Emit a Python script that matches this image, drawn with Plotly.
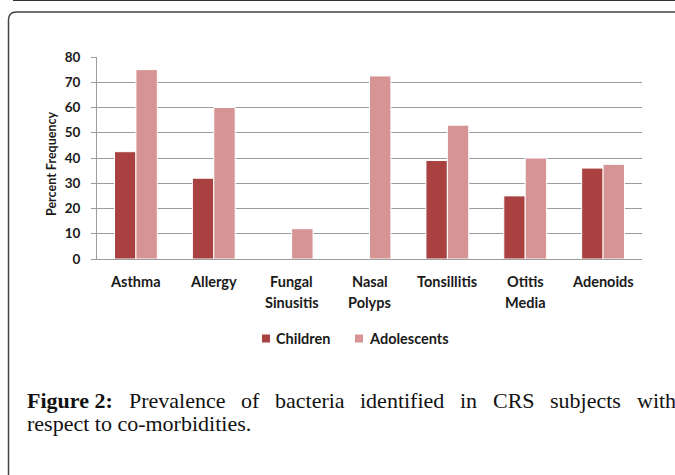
import plotly.graph_objects as go

# ---- data ----
categories = ["Asthma", "Allergy", "Fungal Sinusitis", "Nasal Polyps", "Tonsillitis", "Otitis Media", "Adenoids"]
label_line1 = ["Asthma", "Allergy", "Fungal", "Nasal", "Tonsillitis", "Otitis", "Adenoids"]
label_line2 = ["", "", "Sinusitis", "Polyps", "", "Media", ""]
children = [42.5, 32, None, None, 39, 25, 36]
adolescents = [75, 60, 12, 72.5, 53, 40, 37.5]
series_names = ["Children", "Adolescents"]
y_ticks = [0, 10, 20, 30, 40, 50, 60, 70, 80]
y_title = "Percent Frequency"
caption_bold = "Figure 2:"
caption_line1_words = ["Prevalence", "of", "bacteria", "identified", "in", "CRS", "subjects", "with"]
caption_line2 = "respect to co-morbidities."

# ---- layout constants ----
W, H = 675, 475
ML, MR, MT, MB = 97, 33, 57, 216
PW, PH = W - ML - MR, H - MT - MB
C_CHILD = "#A94141"
C_ADOL = "#D69494"
GRID = "#9c9c9c"
SANS = "Lato"
SERIF = "Liberation Serif"
LBL = 14.5
CAP = 22

# Times/Liberation Serif advance widths (1/1000 em) used to justify the caption line
TW = {'a': 444, 'b': 500, 'c': 444, 'd': 500, 'e': 444, 'f': 333, 'g': 500, 'h': 500, 'i': 278,
      'j': 278, 'l': 278, 'n': 500, 'o': 500, 'r': 333, 's': 389, 't': 278, 'u': 500, 'v': 500,
      'w': 722, 'P': 556, 'C': 667, 'R': 667, 'S': 556}
TWB = {'F': 611, 'i': 278, 'g': 500, 'u': 556, 'r': 444, 'e': 444, ' ': 250, '2': 500, ':': 333}


def px(x):
    return (x - ML) / PW


def py(y):
    return (H - MB - y) / PH


fig = go.Figure()
fig.add_trace(go.Bar(x=categories, y=children, name=series_names[0],
                     marker=dict(color=C_CHILD, line=dict(color="white", width=1))))
fig.add_trace(go.Bar(x=categories, y=adolescents, name=series_names[1],
                     marker=dict(color=C_ADOL, line=dict(color="white", width=1))))

fig.update_layout(
    width=W, height=H,
    margin=dict(l=ML, r=MR, t=MT, b=MB),
    paper_bgcolor="white", plot_bgcolor="white",
    barmode="group", bargap=0.45, bargroupgap=0,
    showlegend=False,
    font=dict(family=SANS, color="#1a1a1a"),
)
fig.update_xaxes(
    type="category", showticklabels=False, showgrid=False,
    showline=True, linecolor=GRID, linewidth=1, ticks="",
)
fig.update_yaxes(
    range=[0, 80], tickvals=y_ticks, showgrid=True, gridcolor=GRID, gridwidth=1,
    showline=True, linecolor=GRID, linewidth=1, ticks="outside", ticklen=5,
    tickcolor=GRID, ticklabelstandoff=8, zeroline=False,
    tickfont=dict(family=SANS, size=13.5, color="#1a1a1a", weight="bold"),
)

ann = []
# category labels
for cat, l1, l2 in zip(categories, label_line1, label_line2):
    ann.append(dict(x=cat, xref="x", y=py(281), yref="paper", text=f"<b>{l1}</b>",
                    showarrow=False, xanchor="center", yanchor="middle",
                    font=dict(family=SANS, size=LBL, color="#1a1a1a")))
    if l2:
        ann.append(dict(x=cat, xref="x", y=py(302), yref="paper", text=f"<b>{l2}</b>",
                        showarrow=False, xanchor="center", yanchor="middle",
                        font=dict(family=SANS, size=LBL, color="#1a1a1a")))
# y title
ann.append(dict(x=px(51), y=py(164), xref="paper", yref="paper", text=f"<b>{y_title}</b>",
                textangle=-90, showarrow=False, xanchor="center", yanchor="middle",
                font=dict(family=SANS, size=12.5, color="#1a1a1a")))
# legend
leg = [(series_names[0], C_CHILD, 262, 274), (series_names[1], C_ADOL, 355, 367)]
shapes = []
for name, col, sx, tx in leg:
    shapes.append(dict(type="rect", xref="paper", yref="paper",
                       x0=px(sx), x1=px(sx + 8), y0=py(342.5), y1=py(334.5),
                       fillcolor=col, line=dict(width=0)))
    ann.append(dict(x=px(tx), y=py(338.5), xref="paper", yref="paper", text=f"<b>{name}</b>",
                    showarrow=False, xanchor="left", yanchor="middle",
                    font=dict(family=SANS, size=LBL, color="#1a1a1a")))

# caption line 1, justified between x=25 and x=674
words = [caption_bold] + caption_line1_words
widths = [sum(TWB.get(c, 500) for c in caption_bold) * CAP / 1000]
widths += [sum(TW.get(c, 500) for c in w) * CAP / 1000 for w in caption_line1_words]
left, right = 25, 674
gap = (right - left - sum(widths)) / (len(words) - 1)
xcur = left
for i, (wd, wdt) in enumerate(zip(words, widths)):
    txt = f"<b>{wd}</b>" if i == 0 else wd
    ann.append(dict(x=px(xcur), y=py(400), xref="paper", yref="paper", text=txt,
                    showarrow=False, xanchor="left", yanchor="middle",
                    font=dict(family=SERIF, size=CAP, color="#111")))
    xcur += wdt + gap
ann.append(dict(x=px(25), y=py(423), xref="paper", yref="paper", text=caption_line2,
                showarrow=False, xanchor="left", yanchor="middle",
                font=dict(family=SERIF, size=CAP, color="#111")))

# frame lines
shapes.append(dict(type="line", xref="paper", yref="paper", x0=px(13), x1=px(676),
                   y0=py(0.5), y1=py(0.5), line=dict(color="#333", width=1.2)))
frame_path = (f"M {px(8.5)},{py(476)} L {px(8.5)},{py(20)} "
              f"Q {px(8.5)},{py(12)} {px(16.5)},{py(12)} L {px(676)},{py(12)}")
shapes.append(dict(type="path", xref="paper", yref="paper", path=frame_path,
                   line=dict(color="#444", width=1.5)))

fig.update_layout(annotations=ann, shapes=shapes)
fig.write_html("out.html", config={"displayModeBar": False},
               post_script="document.body.style.margin='0';document.body.style.overflow='hidden';")
